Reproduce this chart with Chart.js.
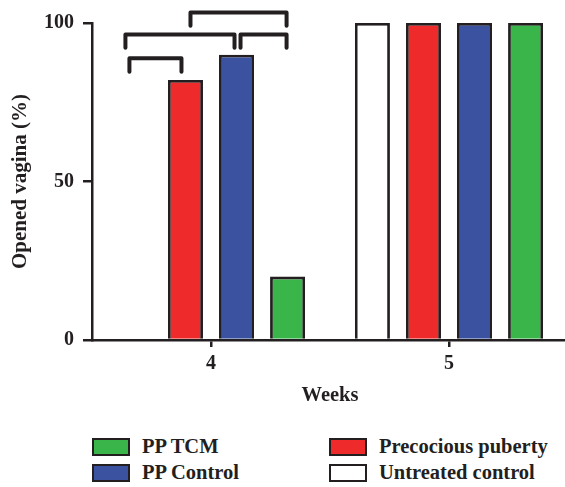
<!DOCTYPE html>
<html>
<head>
<meta charset="utf-8">
<script src="https://cdn.jsdelivr.net/npm/chart.js@4"></script>
<style>
  html, body { margin: 0; padding: 0; background: #fff; overflow: hidden; width: 565px; height: 487px; }
  #wrap { position: absolute; left: 0; top: 0; width: 570px; height: 410px; }
  .legend { position: absolute; font-family: "Liberation Serif", serif; font-weight: bold; font-size: 20.5px; color: #231f20; }
  .item { position: absolute; display: flex; align-items: center; white-space: nowrap; height: 19px; }
  .box { width: 34px; height: 14px; border: 2.5px solid #231f20; margin-right: 12px; }
</style>
</head>
<body>
<div id="wrap"><canvas id="chart" width="570" height="410"></canvas></div>
<div class="legend" id="legend"></div>
<script>
const weeks = ['4', '5'];
const seriesNames = ['Untreated control', 'Precocious puberty', 'PP Control', 'PP TCM'];
const untreatedControl = [0, 100];
const precociousPuberty = [82, 100];
const ppControl = [90, 100];
const ppTcm = [20, 100];
const yTicks = [0, 50, 100];
const seriesColors = ['#ffffff', '#ee2a2a', '#3a52a0', '#3ab54a'];

// significance brackets: dataset indexes at week 4, bar level and leg bottom (in %)
const brackets = [
    { from: 0, to: 1, level: 88.9, legEnd: 84.6, shiftFrom: -5, shiftTo: -4 },
    { from: 0, to: 2, level: 96.4, legEnd: 92.2, shiftFrom: -9, shiftTo: -2 },
    { from: 2, to: 3, level: 96.4, legEnd: 92.2, shiftFrom: 4, shiftTo: -1 },
    { from: 1, to: 3, level: 103.3, legEnd: 99.1, shiftFrom: 5, shiftTo: -1 },
];

const ink = '#231f20';
const fontFamily = '"Liberation Serif", "Times New Roman", serif';

const bracketPlugin = {
    id: 'brackets',
    afterDatasetsDraw(chart) {
        const ctx = chart.ctx;
        const y = chart.scales.y;
        ctx.save();
        ctx.strokeStyle = ink;
        ctx.lineWidth = 4;
        ctx.lineJoin = 'round';
        ctx.lineCap = 'round';
        brackets.forEach((b) => {
            const x1 = chart.getDatasetMeta(b.from).data[0].x + b.shiftFrom;
            const x2 = chart.getDatasetMeta(b.to).data[0].x + b.shiftTo;
            const top = y.getPixelForValue(b.level);
            const bottom = y.getPixelForValue(b.legEnd);
            ctx.beginPath();
            ctx.moveTo(x1, bottom);
            ctx.lineTo(x1, top);
            ctx.lineTo(x2, top);
            ctx.lineTo(x2, bottom);
            ctx.stroke();
        });
        ctx.restore();
    },
};

const seriesData = [untreatedControl, precociousPuberty, ppControl, ppTcm];

new Chart(document.getElementById('chart'), {
    type: 'bar',
    data: {
        labels: weeks,
        datasets: seriesNames.map((name, i) => ({
            label: name,
            data: seriesData[i],
            backgroundColor: seriesColors[i],
            borderColor: ink,
            borderWidth: 2.8,
            borderSkipped: 'start',
            categoryPercentage: 0.858,
            barPercentage: 0.686,
        })),
    },
    options: {
        responsive: false,
        animation: false,
        devicePixelRatio: 1,
        layout: {
            padding: { top: 23, right: 2, bottom: 0, left: 0 },
        },
        plugins: {
            legend: { display: false },
            tooltip: { enabled: false },
        },
        scales: {
            x: {
                offset: true,
                grid: {
                    offset: false,
                    drawOnChartArea: false,
                    drawTicks: true,
                    tickLength: 7,
                    color: ink,
                    lineWidth: 2.5,
                },
                border: { display: true, color: ink, width: 2.5 },
                ticks: {
                    color: ink,
                    padding: 5,
                    font: { family: fontFamily, size: 20, weight: 'bold' },
                },
                title: {
                    display: true,
                    text: 'Weeks',
                    color: ink,
                    padding: { top: 0, bottom: 2 },
                    font: { family: fontFamily, size: 20.5, weight: 'bold' },
                },
                afterFit(scale) {
                    scale.height = 70;
                },
            },
            y: {
                min: 0,
                max: 100,
                afterBuildTicks(scale) {
                    scale.ticks = yTicks.map((v) => ({ value: v }));
                },
                grid: {
                    drawOnChartArea: false,
                    drawTicks: true,
                    tickLength: 9,
                    color: ink,
                    lineWidth: 2.5,
                },
                border: { display: true, color: ink, width: 2.5 },
                ticks: {
                    color: ink,
                    padding: 9,
                    font: { family: fontFamily, size: 20, weight: 'bold' },
                },
                title: {
                    display: true,
                    text: 'Opened vagina (%)',
                    color: ink,
                    padding: { top: 8, bottom: 0 },
                    font: { family: fontFamily, size: 21, weight: 'bold' },
                },
                afterFit(scale) {
                    scale.width = 92;
                },
            },
        },
    },
    plugins: [bracketPlugin],
});

// legend laid out in two columns like the original
const legendItems = [
    { idx: 3, left: 92, top: 437 },
    { idx: 2, left: 92, top: 463 },
    { idx: 1, left: 329, top: 437 },
    { idx: 0, left: 329, top: 463 },
];
const legendNode = document.getElementById('legend');
legendItems.forEach((item) => {
    const el = document.createElement('div');
    el.className = 'item';
    el.style.left = item.left + 'px';
    el.style.top = item.top + 'px';
    const box = document.createElement('span');
    box.className = 'box';
    box.style.background = seriesColors[item.idx];
    const label = document.createElement('span');
    label.textContent = seriesNames[item.idx];
    el.appendChild(box);
    el.appendChild(label);
    legendNode.appendChild(el);
});
</script>
</body>
</html>
